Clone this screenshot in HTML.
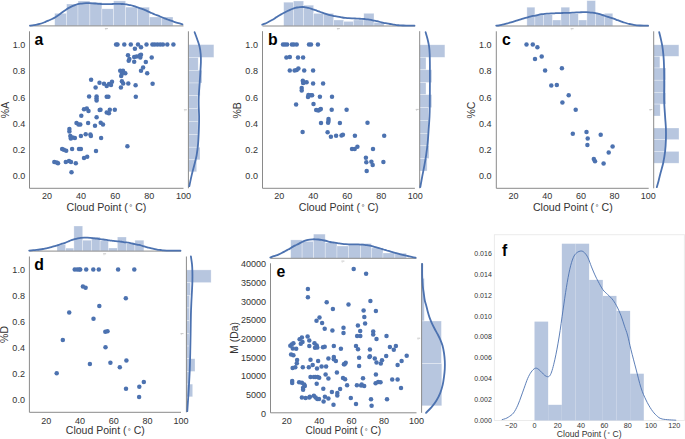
<!DOCTYPE html>
<html><head><meta charset="utf-8"><title>Figure</title>
<style>html,body{margin:0;padding:0;background:#fff;}svg{display:block;}
text{font-family:"Liberation Sans", sans-serif;}</style></head>
<body>
<svg width="685" height="439" viewBox="0 0 685 439" font-family='"Liberation Sans", sans-serif'>
<rect width="685" height="439" fill="#fff"/>
<rect x="54.7" y="13.3" width="11.9" height="12.6" fill="#b7c6df" stroke="#fff" stroke-opacity="0.5" stroke-width="0.6"/>
<rect x="66.6" y="4" width="11.4" height="21.9" fill="#b7c6df" stroke="#fff" stroke-opacity="0.5" stroke-width="0.6"/>
<rect x="78" y="1" width="11.9" height="24.9" fill="#b7c6df" stroke="#fff" stroke-opacity="0.5" stroke-width="0.6"/>
<rect x="89.9" y="2.3" width="12" height="23.6" fill="#b7c6df" stroke="#fff" stroke-opacity="0.5" stroke-width="0.6"/>
<rect x="101.9" y="8.8" width="11.7" height="17.1" fill="#b7c6df" stroke="#fff" stroke-opacity="0.5" stroke-width="0.6"/>
<rect x="113.6" y="0.9" width="12" height="25" fill="#b7c6df" stroke="#fff" stroke-opacity="0.5" stroke-width="0.6"/>
<rect x="125.6" y="7.1" width="12.1" height="18.8" fill="#b7c6df" stroke="#fff" stroke-opacity="0.5" stroke-width="0.6"/>
<rect x="137.7" y="7.2" width="11.7" height="18.7" fill="#b7c6df" stroke="#fff" stroke-opacity="0.5" stroke-width="0.6"/>
<rect x="149.4" y="17" width="12.1" height="8.9" fill="#b7c6df" stroke="#fff" stroke-opacity="0.5" stroke-width="0.6"/>
<rect x="161.5" y="17" width="11.5" height="8.9" fill="#b7c6df" stroke="#fff" stroke-opacity="0.5" stroke-width="0.6"/>
<line x1="29.5" y1="25.9" x2="183.5" y2="25.9" stroke="#8a8a8a" stroke-width="1"/>
<path d="M30,25.6 C30.63,25.52 32.67,25.27 33.8,25.1 C34.93,24.93 35.82,24.8 36.8,24.6 C37.78,24.4 38.73,24.17 39.7,23.9 C40.67,23.63 41.63,23.35 42.6,23 C43.57,22.65 44.53,22.2 45.5,21.8 C46.47,21.4 47.42,21.02 48.4,20.6 C49.38,20.18 50.42,19.75 51.4,19.3 C52.38,18.85 53.33,18.45 54.3,17.9 C55.27,17.35 56.23,16.67 57.2,16 C58.17,15.33 59.13,14.6 60.1,13.9 C61.07,13.2 62.02,12.5 63,11.8 C63.98,11.1 65.02,10.35 66,9.7 C66.98,9.05 67.93,8.45 68.9,7.9 C69.87,7.35 70.82,6.85 71.8,6.4 C72.78,5.95 73.82,5.57 74.8,5.2 C75.78,4.83 76.73,4.47 77.7,4.2 C78.67,3.93 79.63,3.75 80.6,3.6 C81.57,3.45 82.53,3.37 83.5,3.3 C84.47,3.23 85.42,3.22 86.4,3.2 C87.38,3.18 88.42,3.18 89.4,3.2 C90.38,3.22 91.33,3.25 92.3,3.3 C93.27,3.35 94.23,3.42 95.2,3.5 C96.17,3.58 97.13,3.72 98.1,3.8 C99.07,3.88 100.02,3.93 101,4 C101.98,4.07 103.02,4.17 104,4.2 C104.98,4.23 105.93,4.22 106.9,4.2 C107.87,4.18 108.82,4.13 109.8,4.1 C110.78,4.07 111.82,4.03 112.8,4 C113.78,3.97 114.73,3.92 115.7,3.9 C116.67,3.88 117.63,3.88 118.6,3.9 C119.57,3.92 120.53,3.97 121.5,4 C122.47,4.03 123.42,4 124.4,4.1 C125.38,4.2 126.42,4.43 127.4,4.6 C128.38,4.77 129.33,4.9 130.3,5.1 C131.27,5.3 132.23,5.5 133.2,5.8 C134.17,6.1 135.13,6.55 136.1,6.9 C137.07,7.25 138.02,7.58 139,7.9 C139.98,8.22 140.97,8.43 142,8.8 C143.03,9.17 144.13,9.63 145.2,10.1 C146.27,10.57 147.33,11.12 148.4,11.6 C149.47,12.08 150.53,12.52 151.6,13 C152.67,13.48 153.72,14.05 154.8,14.5 C155.88,14.95 157.02,15.28 158.1,15.7 C159.18,16.12 160.23,16.57 161.3,17 C162.37,17.43 163.43,17.88 164.5,18.3 C165.57,18.72 166.63,19.1 167.7,19.5 C168.77,19.9 169.83,20.32 170.9,20.7 C171.97,21.08 173.03,21.45 174.1,21.8 C175.17,22.15 175.9,22.38 177.3,22.8 C178.7,23.22 181.63,24.05 182.5,24.3" fill="none" stroke="#4c72b0" stroke-width="1.8" stroke-linecap="round"/>
<rect x="188.4" y="44.6" width="25.5" height="12.8" fill="#b7c6df" stroke="#fff" stroke-opacity="0.5" stroke-width="0.6"/>
<rect x="188.4" y="57.4" width="9.8" height="12.9" fill="#b7c6df" stroke="#fff" stroke-opacity="0.5" stroke-width="0.6"/>
<rect x="188.4" y="70.3" width="13.6" height="12.7" fill="#b7c6df" stroke="#fff" stroke-opacity="0.5" stroke-width="0.6"/>
<rect x="188.4" y="83" width="11.7" height="12.6" fill="#b7c6df" stroke="#fff" stroke-opacity="0.5" stroke-width="0.6"/>
<rect x="188.4" y="95.6" width="9.3" height="12.8" fill="#b7c6df" stroke="#fff" stroke-opacity="0.5" stroke-width="0.6"/>
<rect x="188.4" y="108.4" width="9.7" height="12.9" fill="#b7c6df" stroke="#fff" stroke-opacity="0.5" stroke-width="0.6"/>
<rect x="188.4" y="121.3" width="9.7" height="13.1" fill="#b7c6df" stroke="#fff" stroke-opacity="0.5" stroke-width="0.6"/>
<rect x="188.4" y="134.4" width="10.2" height="12.8" fill="#b7c6df" stroke="#fff" stroke-opacity="0.5" stroke-width="0.6"/>
<rect x="188.4" y="147.2" width="11.6" height="12.6" fill="#b7c6df" stroke="#fff" stroke-opacity="0.5" stroke-width="0.6"/>
<rect x="188.4" y="159.8" width="8.3" height="12" fill="#b7c6df" stroke="#fff" stroke-opacity="0.5" stroke-width="0.6"/>
<line x1="188.4" y1="31.3" x2="188.4" y2="188.3" stroke="#8a8a8a" stroke-width="1"/>
<path d="M194.6,32.2 C195.03,33.37 196.37,36.78 197.2,39.2 C198.03,41.62 199.02,44.2 199.6,46.7 C200.18,49.2 200.48,51.7 200.7,54.2 C200.92,56.7 200.97,58.58 200.9,61.7 C200.83,64.82 200.52,69.17 200.3,72.9 C200.08,76.63 199.85,80.35 199.6,84.1 C199.35,87.85 198.95,91.92 198.8,95.4 C198.65,98.88 198.65,101.47 198.7,105 C198.75,108.53 199.07,112.73 199.1,116.6 C199.13,120.47 199.07,123.68 198.9,128.2 C198.73,132.72 198.48,139.18 198.1,143.7 C197.72,148.22 197.23,151.75 196.6,155.3 C195.97,158.85 195.1,161.78 194.3,165 C193.5,168.22 192.63,171.07 191.8,174.6 C190.97,178.13 189.72,184.27 189.3,186.2" fill="none" stroke="#4c72b0" stroke-width="1.8" stroke-linecap="round"/>
<line x1="29.5" y1="31.3" x2="29.5" y2="188.3" stroke="#8a8a8a" stroke-width="1"/>
<line x1="29.5" y1="188.3" x2="183.5" y2="188.3" stroke="#8a8a8a" stroke-width="1"/>
<g fill="#4c72b0">
<circle cx="116.1" cy="44.6" r="2.25"/>
<circle cx="117.5" cy="44.6" r="2.25"/>
<circle cx="124.3" cy="44.6" r="2.25"/>
<circle cx="130.8" cy="44.6" r="2.25"/>
<circle cx="138" cy="44.6" r="2.25"/>
<circle cx="146.5" cy="44.6" r="2.25"/>
<circle cx="152.4" cy="44.6" r="2.25"/>
<circle cx="154.7" cy="44.6" r="2.25"/>
<circle cx="157.4" cy="44.6" r="2.25"/>
<circle cx="160.2" cy="44.6" r="2.25"/>
<circle cx="162.9" cy="44.6" r="2.25"/>
<circle cx="167.3" cy="44.6" r="2.25"/>
<circle cx="173.4" cy="44.6" r="2.25"/>
<circle cx="134.9" cy="48.7" r="2.25"/>
<circle cx="141" cy="47.3" r="2.25"/>
<circle cx="128" cy="55.2" r="2.25"/>
<circle cx="129.4" cy="58.9" r="2.25"/>
<circle cx="128.7" cy="60.7" r="2.25"/>
<circle cx="134.2" cy="56.9" r="2.25"/>
<circle cx="134.2" cy="61.7" r="2.25"/>
<circle cx="136.6" cy="56.6" r="2.25"/>
<circle cx="139.7" cy="55.5" r="2.25"/>
<circle cx="141" cy="54.8" r="2.25"/>
<circle cx="140.3" cy="57.6" r="2.25"/>
<circle cx="145.8" cy="61.9" r="2.25"/>
<circle cx="151.7" cy="57.6" r="2.25"/>
<circle cx="143.1" cy="67.4" r="2.25"/>
<circle cx="141" cy="70.8" r="2.25"/>
<circle cx="147.2" cy="73.3" r="2.25"/>
<circle cx="120.2" cy="70.8" r="2.25"/>
<circle cx="123" cy="70.8" r="2.25"/>
<circle cx="125.3" cy="73.3" r="2.25"/>
<circle cx="121.9" cy="73.7" r="2.25"/>
<circle cx="121.2" cy="76" r="2.25"/>
<circle cx="121.9" cy="81.2" r="2.25"/>
<circle cx="123.2" cy="83.5" r="2.25"/>
<circle cx="128.3" cy="83.5" r="2.25"/>
<circle cx="120.9" cy="87.4" r="2.25"/>
<circle cx="135.6" cy="85.2" r="2.25"/>
<circle cx="152.6" cy="83.8" r="2.25"/>
<circle cx="99.5" cy="82.8" r="2.25"/>
<circle cx="104" cy="83.7" r="2.25"/>
<circle cx="106.7" cy="86" r="2.25"/>
<circle cx="109" cy="84" r="2.25"/>
<circle cx="111" cy="84.9" r="2.25"/>
<circle cx="112" cy="81.8" r="2.25"/>
<circle cx="91.1" cy="79.8" r="2.25"/>
<circle cx="95.6" cy="87.4" r="2.25"/>
<circle cx="89.1" cy="96.6" r="2.25"/>
<circle cx="96.6" cy="96.6" r="2.25"/>
<circle cx="96.5" cy="98.6" r="2.25"/>
<circle cx="96.6" cy="100.6" r="2.25"/>
<circle cx="106.7" cy="96.7" r="2.25"/>
<circle cx="108.4" cy="96.7" r="2.25"/>
<circle cx="135.8" cy="96.8" r="2.25"/>
<circle cx="84" cy="109.2" r="2.25"/>
<circle cx="86.8" cy="108.5" r="2.25"/>
<circle cx="88.5" cy="110.9" r="2.25"/>
<circle cx="99.7" cy="109.9" r="2.25"/>
<circle cx="100.5" cy="109.8" r="2.25"/>
<circle cx="106.7" cy="112.5" r="2.25"/>
<circle cx="108.9" cy="113.2" r="2.25"/>
<circle cx="109.8" cy="109.8" r="2.25"/>
<circle cx="114.8" cy="109.8" r="2.25"/>
<circle cx="81.3" cy="115.8" r="2.25"/>
<circle cx="96.6" cy="117.2" r="2.25"/>
<circle cx="76.5" cy="123" r="2.25"/>
<circle cx="78.5" cy="124.4" r="2.25"/>
<circle cx="80.3" cy="124.4" r="2.25"/>
<circle cx="88.1" cy="123" r="2.25"/>
<circle cx="95" cy="125.7" r="2.25"/>
<circle cx="100.7" cy="122.8" r="2.25"/>
<circle cx="103" cy="124.5" r="2.25"/>
<circle cx="69.4" cy="129.1" r="2.25"/>
<circle cx="69.4" cy="131.6" r="2.25"/>
<circle cx="70.3" cy="136" r="2.25"/>
<circle cx="70.8" cy="138.4" r="2.25"/>
<circle cx="72.7" cy="137.4" r="2.25"/>
<circle cx="74.9" cy="138" r="2.25"/>
<circle cx="80.9" cy="136" r="2.25"/>
<circle cx="85.7" cy="134.3" r="2.25"/>
<circle cx="90.4" cy="134.6" r="2.25"/>
<circle cx="90.9" cy="136" r="2.25"/>
<circle cx="101.1" cy="138.1" r="2.25"/>
<circle cx="127.4" cy="146.3" r="2.25"/>
<circle cx="62.1" cy="149" r="2.25"/>
<circle cx="63.9" cy="149.7" r="2.25"/>
<circle cx="66.2" cy="150.8" r="2.25"/>
<circle cx="72.1" cy="149" r="2.25"/>
<circle cx="79" cy="149" r="2.25"/>
<circle cx="80.9" cy="149" r="2.25"/>
<circle cx="96" cy="151" r="2.25"/>
<circle cx="84" cy="157.9" r="2.25"/>
<circle cx="87.2" cy="156.8" r="2.25"/>
<circle cx="54.3" cy="162" r="2.25"/>
<circle cx="56.7" cy="162.6" r="2.25"/>
<circle cx="58" cy="163.3" r="2.25"/>
<circle cx="65.8" cy="162" r="2.25"/>
<circle cx="69" cy="160.9" r="2.25"/>
<circle cx="71" cy="162" r="2.25"/>
<circle cx="75.8" cy="163.3" r="2.25"/>
<circle cx="71.5" cy="172.3" r="2.25"/>
</g>
<text transform="translate(25.3,179.1) scale(0.93,1)" font-size="9.7" text-anchor="end" fill="#333333">0.0</text>
<text transform="translate(25.3,152.94) scale(0.93,1)" font-size="9.7" text-anchor="end" fill="#333333">0.2</text>
<text transform="translate(25.3,126.78) scale(0.93,1)" font-size="9.7" text-anchor="end" fill="#333333">0.4</text>
<text transform="translate(25.3,100.62) scale(0.93,1)" font-size="9.7" text-anchor="end" fill="#333333">0.6</text>
<text transform="translate(25.3,74.46) scale(0.93,1)" font-size="9.7" text-anchor="end" fill="#333333">0.8</text>
<text transform="translate(25.3,48.3) scale(0.93,1)" font-size="9.7" text-anchor="end" fill="#333333">1.0</text>
<text transform="translate(46.97,199.4) scale(0.93,1)" font-size="9.7" text-anchor="middle" fill="#333333">20</text>
<text transform="translate(81.1,199.4) scale(0.93,1)" font-size="9.7" text-anchor="middle" fill="#333333">40</text>
<text transform="translate(115.24,199.4) scale(0.93,1)" font-size="9.7" text-anchor="middle" fill="#333333">60</text>
<text transform="translate(149.37,199.4) scale(0.93,1)" font-size="9.7" text-anchor="middle" fill="#333333">80</text>
<text transform="translate(183.5,199.4) scale(0.93,1)" font-size="9.7" text-anchor="middle" fill="#333333">100</text>
<text x="34.4" y="44.5" font-size="15.8" text-anchor="start" fill="#000" font-weight="bold">a</text>
<text transform="translate(8.5,110) rotate(-90)" font-size="10.5" text-anchor="middle" fill="#333333">%A</text>
<text x="66.6" y="210.9" font-size="10.6" fill="#333333">Cloud Point (</text>
<text x="129.2" y="210" font-size="7.63" fill="#333333">&#176;</text>
<text x="135.2" y="210.9" font-size="10.6" fill="#333333">C)</text>
<rect x="283.7" y="2.2" width="9.8" height="23.8" fill="#b7c6df" stroke="#fff" stroke-opacity="0.5" stroke-width="0.6"/>
<rect x="293.5" y="1" width="10.1" height="25" fill="#b7c6df" stroke="#fff" stroke-opacity="0.5" stroke-width="0.6"/>
<rect x="303.6" y="5.2" width="10" height="20.8" fill="#b7c6df" stroke="#fff" stroke-opacity="0.5" stroke-width="0.6"/>
<rect x="313.6" y="13.4" width="10" height="12.6" fill="#b7c6df" stroke="#fff" stroke-opacity="0.5" stroke-width="0.6"/>
<rect x="323.6" y="13.4" width="10.1" height="12.6" fill="#b7c6df" stroke="#fff" stroke-opacity="0.5" stroke-width="0.6"/>
<rect x="333.7" y="20" width="10" height="6" fill="#b7c6df" stroke="#fff" stroke-opacity="0.5" stroke-width="0.6"/>
<rect x="343.7" y="21.4" width="9.8" height="4.6" fill="#b7c6df" stroke="#fff" stroke-opacity="0.5" stroke-width="0.6"/>
<rect x="353.5" y="20" width="10.3" height="6" fill="#b7c6df" stroke="#fff" stroke-opacity="0.5" stroke-width="0.6"/>
<rect x="363.8" y="13.3" width="10.2" height="12.7" fill="#b7c6df" stroke="#fff" stroke-opacity="0.5" stroke-width="0.6"/>
<rect x="374" y="22.5" width="10" height="3.5" fill="#b7c6df" stroke="#fff" stroke-opacity="0.5" stroke-width="0.6"/>
<line x1="262.5" y1="26" x2="414.9" y2="26" stroke="#8a8a8a" stroke-width="1"/>
<path d="M262.2,24.6 C262.68,24.43 264.08,24.03 265.1,23.6 C266.12,23.17 267.23,22.55 268.3,22 C269.37,21.45 270.43,20.9 271.5,20.3 C272.57,19.7 273.63,19.07 274.7,18.4 C275.77,17.73 276.83,16.97 277.9,16.3 C278.97,15.63 280.05,14.98 281.1,14.4 C282.15,13.82 283.15,13.37 284.2,12.8 C285.25,12.23 286.33,11.53 287.4,11 C288.47,10.47 289.53,10.05 290.6,9.6 C291.67,9.15 292.73,8.65 293.8,8.3 C294.87,7.95 295.97,7.7 297,7.5 C298.03,7.3 299.08,7.18 300,7.1 C300.92,7.02 301.77,7 302.5,7 C303.23,7 303.55,6.97 304.4,7.1 C305.25,7.23 306.53,7.55 307.6,7.8 C308.67,8.05 309.75,8.28 310.8,8.6 C311.85,8.92 312.85,9.33 313.9,9.7 C314.95,10.07 316.03,10.42 317.1,10.8 C318.17,11.18 319.23,11.62 320.3,12 C321.37,12.38 322.43,12.73 323.5,13.1 C324.57,13.47 325.63,13.85 326.7,14.2 C327.77,14.55 328.83,14.92 329.9,15.2 C330.97,15.48 332.05,15.7 333.1,15.9 C334.15,16.1 335.18,16.23 336.2,16.4 C337.22,16.57 338.17,16.72 339.2,16.9 C340.23,17.08 341.33,17.33 342.4,17.5 C343.47,17.67 344.53,17.78 345.6,17.9 C346.67,18.02 347.73,18.12 348.8,18.2 C349.87,18.28 350.95,18.35 352,18.4 C353.05,18.45 354.05,18.45 355.1,18.5 C356.15,18.55 357.23,18.65 358.3,18.7 C359.37,18.75 360.43,18.75 361.5,18.8 C362.57,18.85 363.63,18.92 364.7,19 C365.77,19.08 366.83,19.15 367.9,19.3 C368.97,19.45 370.05,19.68 371.1,19.9 C372.15,20.12 373.18,20.38 374.2,20.6 C375.22,20.82 376.17,20.97 377.2,21.2 C378.23,21.43 379.33,21.73 380.4,22 C381.47,22.27 382.53,22.57 383.6,22.8 C384.67,23.03 385.72,23.2 386.8,23.4 C387.88,23.6 389.02,23.8 390.1,24 C391.18,24.2 392.23,24.42 393.3,24.6 C394.37,24.78 395.43,24.98 396.5,25.1 C397.57,25.22 398.63,25.23 399.7,25.3 C400.77,25.37 401.83,25.45 402.9,25.5 C403.97,25.55 404.17,25.57 406.1,25.6 C408.03,25.63 413.1,25.68 414.5,25.7" fill="none" stroke="#4c72b0" stroke-width="1.8" stroke-linecap="round"/>
<rect x="419.7" y="44.8" width="25.2" height="12.5" fill="#b7c6df" stroke="#fff" stroke-opacity="0.5" stroke-width="0.6"/>
<rect x="419.7" y="57.3" width="6.3" height="12.5" fill="#b7c6df" stroke="#fff" stroke-opacity="0.5" stroke-width="0.6"/>
<rect x="419.7" y="69.8" width="12.1" height="12.7" fill="#b7c6df" stroke="#fff" stroke-opacity="0.5" stroke-width="0.6"/>
<rect x="419.7" y="82.5" width="6.3" height="12.2" fill="#b7c6df" stroke="#fff" stroke-opacity="0.5" stroke-width="0.6"/>
<rect x="419.7" y="94.7" width="12.1" height="12.8" fill="#b7c6df" stroke="#fff" stroke-opacity="0.5" stroke-width="0.6"/>
<rect x="419.7" y="107.5" width="8.8" height="12.8" fill="#b7c6df" stroke="#fff" stroke-opacity="0.5" stroke-width="0.6"/>
<rect x="419.7" y="120.3" width="8.8" height="13" fill="#b7c6df" stroke="#fff" stroke-opacity="0.5" stroke-width="0.6"/>
<rect x="419.7" y="133.3" width="8.8" height="12.5" fill="#b7c6df" stroke="#fff" stroke-opacity="0.5" stroke-width="0.6"/>
<rect x="419.7" y="145.8" width="9.3" height="12.7" fill="#b7c6df" stroke="#fff" stroke-opacity="0.5" stroke-width="0.6"/>
<rect x="419.7" y="158.5" width="7.4" height="12.5" fill="#b7c6df" stroke="#fff" stroke-opacity="0.5" stroke-width="0.6"/>
<line x1="419.7" y1="31.2" x2="419.7" y2="188.3" stroke="#8a8a8a" stroke-width="1"/>
<path d="M425.6,32.2 C425.93,33.37 427.02,36.78 427.6,39.2 C428.18,41.62 428.75,44.2 429.1,46.7 C429.45,49.2 429.57,51.08 429.7,54.2 C429.83,57.32 429.87,60.42 429.9,65.4 C429.93,70.38 429.92,77.5 429.9,84.1 C429.88,90.7 429.87,99.58 429.8,105 C429.73,110.42 429.7,112.42 429.5,116.6 C429.3,120.78 428.92,125.58 428.6,130.1 C428.28,134.62 428.02,139.5 427.6,143.7 C427.18,147.9 426.68,151.43 426.1,155.3 C425.52,159.17 424.75,163.35 424.1,166.9 C423.45,170.45 422.83,173.22 422.2,176.6 C421.57,179.98 420.62,185.43 420.3,187.2" fill="none" stroke="#4c72b0" stroke-width="1.8" stroke-linecap="round"/>
<line x1="262.5" y1="31.2" x2="262.5" y2="188.3" stroke="#8a8a8a" stroke-width="1"/>
<line x1="262.5" y1="188.3" x2="414.9" y2="188.3" stroke="#8a8a8a" stroke-width="1"/>
<g fill="#4c72b0">
<circle cx="283" cy="44.6" r="2.25"/>
<circle cx="285" cy="44.6" r="2.25"/>
<circle cx="287.1" cy="44.6" r="2.25"/>
<circle cx="291.9" cy="44.6" r="2.25"/>
<circle cx="293.9" cy="44.6" r="2.25"/>
<circle cx="296.7" cy="44.6" r="2.25"/>
<circle cx="309" cy="44.6" r="2.25"/>
<circle cx="311" cy="44.6" r="2.25"/>
<circle cx="317.9" cy="44.6" r="2.25"/>
<circle cx="286.4" cy="57.6" r="2.25"/>
<circle cx="289.8" cy="56.9" r="2.25"/>
<circle cx="298" cy="57.6" r="2.25"/>
<circle cx="303.1" cy="57.6" r="2.25"/>
<circle cx="289.8" cy="70.6" r="2.25"/>
<circle cx="294.6" cy="70.6" r="2.25"/>
<circle cx="296.7" cy="70.1" r="2.25"/>
<circle cx="298.4" cy="68.5" r="2.25"/>
<circle cx="304.2" cy="70.6" r="2.25"/>
<circle cx="313.1" cy="70.6" r="2.25"/>
<circle cx="302.8" cy="80.8" r="2.25"/>
<circle cx="303.1" cy="83.1" r="2.25"/>
<circle cx="306.6" cy="82.2" r="2.25"/>
<circle cx="304" cy="82.5" r="2.25"/>
<circle cx="313.1" cy="83.5" r="2.25"/>
<circle cx="323.1" cy="83.5" r="2.25"/>
<circle cx="301.7" cy="88" r="2.25"/>
<circle cx="301.7" cy="90.5" r="2.25"/>
<circle cx="308.4" cy="95" r="2.25"/>
<circle cx="308" cy="97.1" r="2.25"/>
<circle cx="310.8" cy="95.3" r="2.25"/>
<circle cx="312.1" cy="95.3" r="2.25"/>
<circle cx="319.9" cy="96.8" r="2.25"/>
<circle cx="332" cy="96.8" r="2.25"/>
<circle cx="296.1" cy="104.6" r="2.25"/>
<circle cx="313.5" cy="104.1" r="2.25"/>
<circle cx="316.2" cy="110.1" r="2.25"/>
<circle cx="318.3" cy="110.4" r="2.25"/>
<circle cx="320.8" cy="109" r="2.25"/>
<circle cx="319.7" cy="109.8" r="2.25"/>
<circle cx="331.7" cy="109.8" r="2.25"/>
<circle cx="346.6" cy="109.8" r="2.25"/>
<circle cx="328.5" cy="119" r="2.25"/>
<circle cx="328.5" cy="121" r="2.25"/>
<circle cx="328.1" cy="122.7" r="2.25"/>
<circle cx="321" cy="123.1" r="2.25"/>
<circle cx="339.9" cy="123.1" r="2.25"/>
<circle cx="367.5" cy="122.7" r="2.25"/>
<circle cx="302.6" cy="132" r="2.25"/>
<circle cx="327.6" cy="132.2" r="2.25"/>
<circle cx="330.9" cy="136.8" r="2.25"/>
<circle cx="336.1" cy="135.8" r="2.25"/>
<circle cx="341.5" cy="135.4" r="2.25"/>
<circle cx="342.9" cy="134.7" r="2.25"/>
<circle cx="354.9" cy="135.8" r="2.25"/>
<circle cx="384.2" cy="135.8" r="2.25"/>
<circle cx="352" cy="149" r="2.25"/>
<circle cx="354.7" cy="149" r="2.25"/>
<circle cx="357.4" cy="146.7" r="2.25"/>
<circle cx="373" cy="149" r="2.25"/>
<circle cx="365.9" cy="157.8" r="2.25"/>
<circle cx="366.3" cy="162.3" r="2.25"/>
<circle cx="371.4" cy="161.8" r="2.25"/>
<circle cx="372.7" cy="165" r="2.25"/>
<circle cx="383.4" cy="162.1" r="2.25"/>
<circle cx="366.7" cy="170.9" r="2.25"/>
</g>
<text transform="translate(257.9,179.1) scale(0.93,1)" font-size="9.7" text-anchor="end" fill="#333333">0.0</text>
<text transform="translate(257.9,152.94) scale(0.93,1)" font-size="9.7" text-anchor="end" fill="#333333">0.2</text>
<text transform="translate(257.9,126.78) scale(0.93,1)" font-size="9.7" text-anchor="end" fill="#333333">0.4</text>
<text transform="translate(257.9,100.62) scale(0.93,1)" font-size="9.7" text-anchor="end" fill="#333333">0.6</text>
<text transform="translate(257.9,74.46) scale(0.93,1)" font-size="9.7" text-anchor="end" fill="#333333">0.8</text>
<text transform="translate(257.9,48.3) scale(0.93,1)" font-size="9.7" text-anchor="end" fill="#333333">1.0</text>
<text transform="translate(279.3,199.4) scale(0.93,1)" font-size="9.7" text-anchor="middle" fill="#333333">20</text>
<text transform="translate(313.3,199.4) scale(0.93,1)" font-size="9.7" text-anchor="middle" fill="#333333">40</text>
<text transform="translate(347.3,199.4) scale(0.93,1)" font-size="9.7" text-anchor="middle" fill="#333333">60</text>
<text transform="translate(381.3,199.4) scale(0.93,1)" font-size="9.7" text-anchor="middle" fill="#333333">80</text>
<text transform="translate(415.3,199.4) scale(0.93,1)" font-size="9.7" text-anchor="middle" fill="#333333">100</text>
<text x="268" y="44.6" font-size="15.8" text-anchor="start" fill="#000" font-weight="bold">b</text>
<text transform="translate(240.9,110.3) rotate(-90)" font-size="10.5" text-anchor="middle" fill="#333333">%B</text>
<text x="298.8" y="210.8" font-size="10.6" fill="#333333">Cloud Point (</text>
<text x="361.4" y="209.9" font-size="7.63" fill="#333333">&#176;</text>
<text x="367.4" y="210.8" font-size="10.6" fill="#333333">C)</text>
<rect x="526.9" y="7.2" width="8" height="18.8" fill="#b7c6df" stroke="#fff" stroke-opacity="0.5" stroke-width="0.6"/>
<rect x="534.9" y="14.6" width="8.6" height="11.4" fill="#b7c6df" stroke="#fff" stroke-opacity="0.5" stroke-width="0.6"/>
<rect x="543.5" y="14.6" width="8.9" height="11.4" fill="#b7c6df" stroke="#fff" stroke-opacity="0.5" stroke-width="0.6"/>
<rect x="552.4" y="20" width="8.6" height="6" fill="#b7c6df" stroke="#fff" stroke-opacity="0.5" stroke-width="0.6"/>
<rect x="561" y="7.2" width="8.7" height="18.8" fill="#b7c6df" stroke="#fff" stroke-opacity="0.5" stroke-width="0.6"/>
<rect x="569.7" y="13.7" width="8.6" height="12.3" fill="#b7c6df" stroke="#fff" stroke-opacity="0.5" stroke-width="0.6"/>
<rect x="578.3" y="20" width="8.6" height="6" fill="#b7c6df" stroke="#fff" stroke-opacity="0.5" stroke-width="0.6"/>
<rect x="586.9" y="0.6" width="8.6" height="25.4" fill="#b7c6df" stroke="#fff" stroke-opacity="0.5" stroke-width="0.6"/>
<rect x="595.5" y="14" width="8.9" height="12" fill="#b7c6df" stroke="#fff" stroke-opacity="0.5" stroke-width="0.6"/>
<rect x="604.4" y="13.3" width="8.4" height="12.7" fill="#b7c6df" stroke="#fff" stroke-opacity="0.5" stroke-width="0.6"/>
<line x1="496.3" y1="26" x2="648.7" y2="26" stroke="#8a8a8a" stroke-width="1"/>
<path d="M496.2,25.7 C496.68,25.65 498.08,25.57 499.1,25.4 C500.12,25.23 501.23,24.95 502.3,24.7 C503.37,24.45 504.43,24.18 505.5,23.9 C506.57,23.62 507.63,23.3 508.7,23 C509.77,22.7 510.83,22.42 511.9,22.1 C512.97,21.78 514.05,21.43 515.1,21.1 C516.15,20.77 517.15,20.42 518.2,20.1 C519.25,19.78 520.33,19.52 521.4,19.2 C522.47,18.88 523.53,18.52 524.6,18.2 C525.67,17.88 526.73,17.6 527.8,17.3 C528.87,17 530.05,16.63 531,16.4 C531.95,16.17 532.8,16.03 533.5,15.9 C534.2,15.77 534.38,15.78 535.2,15.6 C536.02,15.42 537.33,15.03 538.4,14.8 C539.47,14.57 540.53,14.37 541.6,14.2 C542.67,14.03 543.73,13.9 544.8,13.8 C545.87,13.7 546.95,13.67 548,13.6 C549.05,13.53 550.05,13.45 551.1,13.4 C552.15,13.35 553.23,13.35 554.3,13.3 C555.37,13.25 556.43,13.13 557.5,13.1 C558.57,13.07 559.63,13.13 560.7,13.1 C561.77,13.07 562.83,12.93 563.9,12.9 C564.97,12.87 566.08,12.92 567.1,12.9 C568.12,12.88 568.98,12.85 570,12.8 C571.02,12.75 572.13,12.67 573.2,12.6 C574.27,12.53 575.33,12.45 576.4,12.4 C577.47,12.35 578.53,12.33 579.6,12.3 C580.67,12.27 581.75,12.22 582.8,12.2 C583.85,12.18 584.85,12.18 585.9,12.2 C586.95,12.22 588.03,12.23 589.1,12.3 C590.17,12.37 591.23,12.47 592.3,12.6 C593.37,12.73 594.43,12.88 595.5,13.1 C596.57,13.32 597.63,13.62 598.7,13.9 C599.77,14.18 600.83,14.45 601.9,14.8 C602.97,15.15 604.05,15.65 605.1,16 C606.15,16.35 607.18,16.6 608.2,16.9 C609.22,17.2 610.17,17.47 611.2,17.8 C612.23,18.13 613.33,18.5 614.4,18.9 C615.47,19.3 616.53,19.8 617.6,20.2 C618.67,20.6 619.72,20.92 620.8,21.3 C621.88,21.68 623.02,22.13 624.1,22.5 C625.18,22.87 626.23,23.22 627.3,23.5 C628.37,23.78 629.43,23.97 630.5,24.2 C631.57,24.43 632.63,24.72 633.7,24.9 C634.77,25.08 635.83,25.2 636.9,25.3 C637.97,25.4 638.23,25.43 640.1,25.5 C641.97,25.57 646.77,25.67 648.1,25.7" fill="none" stroke="#4c72b0" stroke-width="1.8" stroke-linecap="round"/>
<rect x="653.7" y="44.8" width="25.2" height="11.5" fill="#b7c6df" stroke="#fff" stroke-opacity="0.5" stroke-width="0.6"/>
<rect x="653.7" y="56.3" width="6.2" height="11.7" fill="#b7c6df" stroke="#fff" stroke-opacity="0.5" stroke-width="0.6"/>
<rect x="653.7" y="68" width="12.2" height="12.2" fill="#b7c6df" stroke="#fff" stroke-opacity="0.5" stroke-width="0.6"/>
<rect x="653.7" y="80.2" width="12" height="12.1" fill="#b7c6df" stroke="#fff" stroke-opacity="0.5" stroke-width="0.6"/>
<rect x="653.7" y="92.3" width="12.3" height="11.8" fill="#b7c6df" stroke="#fff" stroke-opacity="0.5" stroke-width="0.6"/>
<rect x="653.7" y="104.1" width="6.5" height="11.9" fill="#b7c6df" stroke="#fff" stroke-opacity="0.5" stroke-width="0.6"/>
<rect x="653.7" y="128" width="25.3" height="11.6" fill="#b7c6df" stroke="#fff" stroke-opacity="0.5" stroke-width="0.6"/>
<rect x="653.7" y="139.6" width="12.3" height="11.8" fill="#b7c6df" stroke="#fff" stroke-opacity="0.5" stroke-width="0.6"/>
<rect x="653.7" y="151.4" width="25.3" height="11.8" fill="#b7c6df" stroke="#fff" stroke-opacity="0.5" stroke-width="0.6"/>
<line x1="653.7" y1="31.3" x2="653.7" y2="188.3" stroke="#8a8a8a" stroke-width="1"/>
<path d="M659.2,32.2 C659.48,33.37 660.37,36.78 660.9,39.2 C661.43,41.62 661.97,43.88 662.4,46.7 C662.83,49.52 663.23,52.98 663.5,56.1 C663.77,59.22 663.88,60.73 664,65.4 C664.12,70.07 664.18,78.33 664.2,84.1 C664.22,89.87 663.95,94.58 664.1,100 C664.25,105.42 664.8,111.9 665.1,116.6 C665.4,121.3 665.77,124.33 665.9,128.2 C666.03,132.07 666.03,135.93 665.9,139.8 C665.77,143.67 665.55,147.53 665.1,151.4 C664.65,155.27 663.95,159.45 663.2,163 C662.45,166.55 661.35,169.8 660.6,172.7 C659.85,175.6 659.33,177.98 658.7,180.4 C658.07,182.82 657.12,186.07 656.8,187.2" fill="none" stroke="#4c72b0" stroke-width="1.8" stroke-linecap="round"/>
<line x1="496.3" y1="31.3" x2="496.3" y2="188.3" stroke="#8a8a8a" stroke-width="1"/>
<line x1="496.3" y1="188.3" x2="648.7" y2="188.3" stroke="#8a8a8a" stroke-width="1"/>
<g fill="#4c72b0">
<circle cx="526.5" cy="44.4" r="2.25"/>
<circle cx="532.8" cy="44.4" r="2.25"/>
<circle cx="537.4" cy="47.3" r="2.25"/>
<circle cx="541.7" cy="56.4" r="2.25"/>
<circle cx="535" cy="58.9" r="2.25"/>
<circle cx="545.1" cy="70.6" r="2.25"/>
<circle cx="561.9" cy="68.3" r="2.25"/>
<circle cx="551.3" cy="85.4" r="2.25"/>
<circle cx="556.8" cy="84.9" r="2.25"/>
<circle cx="568.7" cy="95.2" r="2.25"/>
<circle cx="562.4" cy="102.5" r="2.25"/>
<circle cx="575.7" cy="109.7" r="2.25"/>
<circle cx="572.8" cy="133.8" r="2.25"/>
<circle cx="586.5" cy="132.1" r="2.25"/>
<circle cx="587.7" cy="138.5" r="2.25"/>
<circle cx="587.4" cy="145" r="2.25"/>
<circle cx="600.7" cy="134.7" r="2.25"/>
<circle cx="612.6" cy="146.5" r="2.25"/>
<circle cx="608.7" cy="152.5" r="2.25"/>
<circle cx="593.8" cy="159" r="2.25"/>
<circle cx="595" cy="161.2" r="2.25"/>
<circle cx="603.6" cy="163.6" r="2.25"/>
</g>
<text transform="translate(491.6,179.1) scale(0.93,1)" font-size="9.7" text-anchor="end" fill="#333333">0.0</text>
<text transform="translate(491.6,152.94) scale(0.93,1)" font-size="9.7" text-anchor="end" fill="#333333">0.2</text>
<text transform="translate(491.6,126.78) scale(0.93,1)" font-size="9.7" text-anchor="end" fill="#333333">0.4</text>
<text transform="translate(491.6,100.62) scale(0.93,1)" font-size="9.7" text-anchor="end" fill="#333333">0.6</text>
<text transform="translate(491.6,74.46) scale(0.93,1)" font-size="9.7" text-anchor="end" fill="#333333">0.8</text>
<text transform="translate(491.6,48.3) scale(0.93,1)" font-size="9.7" text-anchor="end" fill="#333333">1.0</text>
<text transform="translate(513.46,199.4) scale(0.93,1)" font-size="9.7" text-anchor="middle" fill="#333333">20</text>
<text transform="translate(547.18,199.4) scale(0.93,1)" font-size="9.7" text-anchor="middle" fill="#333333">40</text>
<text transform="translate(580.9,199.4) scale(0.93,1)" font-size="9.7" text-anchor="middle" fill="#333333">60</text>
<text transform="translate(614.62,199.4) scale(0.93,1)" font-size="9.7" text-anchor="middle" fill="#333333">80</text>
<text transform="translate(648.34,199.4) scale(0.93,1)" font-size="9.7" text-anchor="middle" fill="#333333">100</text>
<text x="502" y="44.7" font-size="15.8" text-anchor="start" fill="#000" font-weight="bold">c</text>
<text transform="translate(475.3,110.1) rotate(-90)" font-size="10.5" text-anchor="middle" fill="#333333">%C</text>
<text x="532.9" y="210.8" font-size="10.6" fill="#333333">Cloud Point (</text>
<text x="595.5" y="209.9" font-size="7.63" fill="#333333">&#176;</text>
<text x="601.5" y="210.8" font-size="10.6" fill="#333333">C)</text>
<rect x="57" y="244.3" width="8.6" height="6.8" fill="#b7c6df" stroke="#fff" stroke-opacity="0.5" stroke-width="0.6"/>
<rect x="65.6" y="248.1" width="8.3" height="3" fill="#b7c6df" stroke="#fff" stroke-opacity="0.5" stroke-width="0.6"/>
<rect x="73.9" y="226" width="8.8" height="25.1" fill="#b7c6df" stroke="#fff" stroke-opacity="0.5" stroke-width="0.6"/>
<rect x="82.7" y="240.2" width="8.8" height="10.9" fill="#b7c6df" stroke="#fff" stroke-opacity="0.5" stroke-width="0.6"/>
<rect x="91.5" y="237" width="8.6" height="14.1" fill="#b7c6df" stroke="#fff" stroke-opacity="0.5" stroke-width="0.6"/>
<rect x="100.1" y="240.8" width="8.3" height="10.3" fill="#b7c6df" stroke="#fff" stroke-opacity="0.5" stroke-width="0.6"/>
<rect x="108.4" y="248" width="9" height="3.1" fill="#b7c6df" stroke="#fff" stroke-opacity="0.5" stroke-width="0.6"/>
<rect x="117.4" y="237" width="8.9" height="14.1" fill="#b7c6df" stroke="#fff" stroke-opacity="0.5" stroke-width="0.6"/>
<rect x="126.3" y="243.5" width="8.6" height="7.6" fill="#b7c6df" stroke="#fff" stroke-opacity="0.5" stroke-width="0.6"/>
<rect x="134.9" y="240.2" width="9" height="10.9" fill="#b7c6df" stroke="#fff" stroke-opacity="0.5" stroke-width="0.6"/>
<line x1="29.4" y1="251.1" x2="181" y2="251.1" stroke="#8a8a8a" stroke-width="1"/>
<path d="M29.2,250.6 C29.9,250.53 32.17,250.32 33.4,250.2 C34.63,250.08 35.53,250.02 36.6,249.9 C37.67,249.78 38.73,249.65 39.8,249.5 C40.87,249.35 41.95,249.2 43,249 C44.05,248.8 45.05,248.53 46.1,248.3 C47.15,248.07 48.23,247.87 49.3,247.6 C50.37,247.33 51.43,247 52.5,246.7 C53.57,246.4 54.63,246.12 55.7,245.8 C56.77,245.48 57.83,245.15 58.9,244.8 C59.97,244.45 61.07,244.03 62.1,243.7 C63.13,243.37 64.08,243.17 65.1,242.8 C66.12,242.43 67.15,241.93 68.2,241.5 C69.25,241.07 70.33,240.6 71.4,240.2 C72.47,239.8 73.53,239.42 74.6,239.1 C75.67,238.78 76.75,238.52 77.8,238.3 C78.85,238.08 79.85,237.92 80.9,237.8 C81.95,237.68 83.03,237.63 84.1,237.6 C85.17,237.57 86.23,237.55 87.3,237.6 C88.37,237.65 89.43,237.78 90.5,237.9 C91.57,238.02 92.63,238.17 93.7,238.3 C94.77,238.43 95.83,238.55 96.9,238.7 C97.97,238.85 99.07,239.07 100.1,239.2 C101.13,239.33 102.08,239.38 103.1,239.5 C104.12,239.62 105.15,239.75 106.2,239.9 C107.25,240.05 108.33,240.25 109.4,240.4 C110.47,240.55 111.53,240.67 112.6,240.8 C113.67,240.93 114.73,241.1 115.8,241.2 C116.87,241.3 117.95,241.3 119,241.4 C120.05,241.5 121.05,241.65 122.1,241.8 C123.15,241.95 124.23,242.15 125.3,242.3 C126.37,242.45 127.43,242.52 128.5,242.7 C129.57,242.88 130.63,243.17 131.7,243.4 C132.77,243.63 133.83,243.87 134.9,244.1 C135.97,244.33 137.05,244.57 138.1,244.8 C139.15,245.03 140.18,245.23 141.2,245.5 C142.22,245.77 143.17,246.1 144.2,246.4 C145.23,246.7 146.33,247 147.4,247.3 C148.47,247.6 149.53,247.93 150.6,248.2 C151.67,248.47 152.72,248.67 153.8,248.9 C154.88,249.13 156.02,249.42 157.1,249.6 C158.18,249.78 159.23,249.87 160.3,250 C161.37,250.13 162.43,250.3 163.5,250.4 C164.57,250.5 165.63,250.55 166.7,250.6 C167.77,250.65 167.6,250.68 169.9,250.7 C172.2,250.72 178.73,250.7 180.5,250.7" fill="none" stroke="#4c72b0" stroke-width="1.8" stroke-linecap="round"/>
<rect x="186.4" y="269.9" width="24.7" height="12.69" fill="#b7c6df" stroke="#fff" stroke-opacity="0.5" stroke-width="0.6"/>
<rect x="186.4" y="282.59" width="4.1" height="12.69" fill="#b7c6df" stroke="#fff" stroke-opacity="0.5" stroke-width="0.6"/>
<rect x="186.4" y="295.28" width="3.2" height="12.69" fill="#b7c6df" stroke="#fff" stroke-opacity="0.5" stroke-width="0.6"/>
<rect x="186.4" y="307.97" width="3.2" height="12.69" fill="#b7c6df" stroke="#fff" stroke-opacity="0.5" stroke-width="0.6"/>
<rect x="186.4" y="320.66" width="3.2" height="12.69" fill="#b7c6df" stroke="#fff" stroke-opacity="0.5" stroke-width="0.6"/>
<rect x="186.4" y="333.35" width="2.8" height="12.69" fill="#b7c6df" stroke="#fff" stroke-opacity="0.5" stroke-width="0.6"/>
<rect x="186.4" y="346.04" width="2.8" height="12.69" fill="#b7c6df" stroke="#fff" stroke-opacity="0.5" stroke-width="0.6"/>
<rect x="186.4" y="358.73" width="8.6" height="12.69" fill="#b7c6df" stroke="#fff" stroke-opacity="0.5" stroke-width="0.6"/>
<rect x="186.4" y="371.42" width="2.8" height="12.69" fill="#b7c6df" stroke="#fff" stroke-opacity="0.5" stroke-width="0.6"/>
<rect x="186.4" y="384.11" width="6.3" height="12.69" fill="#b7c6df" stroke="#fff" stroke-opacity="0.5" stroke-width="0.6"/>
<line x1="186.4" y1="256.5" x2="186.4" y2="412.3" stroke="#8a8a8a" stroke-width="1"/>
<path d="M190.9,256.4 C191.08,257.7 191.75,261.65 192,264.2 C192.25,266.75 192.33,268.88 192.4,271.7 C192.47,274.52 192.47,277.98 192.4,281.1 C192.33,284.22 192.17,286.97 192,290.4 C191.83,293.83 191.58,297.63 191.4,301.7 C191.22,305.77 191.03,309.5 190.9,314.8 C190.77,320.1 190.7,327.75 190.6,333.5 C190.5,339.25 190.43,343.43 190.3,349.3 C190.17,355.17 190.05,362.25 189.8,368.7 C189.55,375.15 189.22,380.92 188.8,388 C188.38,395.08 187.55,407.33 187.3,411.2" fill="none" stroke="#4c72b0" stroke-width="1.8" stroke-linecap="round"/>
<line x1="29.4" y1="256.5" x2="29.4" y2="412.3" stroke="#8a8a8a" stroke-width="1"/>
<line x1="29.4" y1="412.3" x2="181" y2="412.3" stroke="#8a8a8a" stroke-width="1"/>
<g fill="#4c72b0">
<circle cx="74.7" cy="269.6" r="2.25"/>
<circle cx="77.1" cy="269.6" r="2.25"/>
<circle cx="79.2" cy="269.6" r="2.25"/>
<circle cx="80.2" cy="269.6" r="2.25"/>
<circle cx="86.2" cy="269.6" r="2.25"/>
<circle cx="93.3" cy="269.6" r="2.25"/>
<circle cx="98.8" cy="269.6" r="2.25"/>
<circle cx="118.1" cy="269.6" r="2.25"/>
<circle cx="134.3" cy="269.6" r="2.25"/>
<circle cx="82.9" cy="286.6" r="2.25"/>
<circle cx="85.6" cy="287.8" r="2.25"/>
<circle cx="125.8" cy="298.2" r="2.25"/>
<circle cx="99.3" cy="306.1" r="2.25"/>
<circle cx="69.2" cy="312.5" r="2.25"/>
<circle cx="93.5" cy="318.8" r="2.25"/>
<circle cx="105.3" cy="331.7" r="2.25"/>
<circle cx="107.5" cy="331.2" r="2.25"/>
<circle cx="62.8" cy="339.9" r="2.25"/>
<circle cx="105.5" cy="347.3" r="2.25"/>
<circle cx="89.9" cy="364.1" r="2.25"/>
<circle cx="110.4" cy="362.7" r="2.25"/>
<circle cx="119.8" cy="367.2" r="2.25"/>
<circle cx="126.4" cy="360.6" r="2.25"/>
<circle cx="56.7" cy="373.3" r="2.25"/>
<circle cx="143.8" cy="382" r="2.25"/>
<circle cx="139.3" cy="386.7" r="2.25"/>
<circle cx="126" cy="388.7" r="2.25"/>
<circle cx="139.1" cy="396.9" r="2.25"/>
</g>
<text transform="translate(24.9,403.2) scale(0.93,1)" font-size="9.7" text-anchor="end" fill="#333333">0.0</text>
<text transform="translate(24.9,377.2) scale(0.93,1)" font-size="9.7" text-anchor="end" fill="#333333">0.2</text>
<text transform="translate(24.9,351.2) scale(0.93,1)" font-size="9.7" text-anchor="end" fill="#333333">0.4</text>
<text transform="translate(24.9,325.2) scale(0.93,1)" font-size="9.7" text-anchor="end" fill="#333333">0.6</text>
<text transform="translate(24.9,299.2) scale(0.93,1)" font-size="9.7" text-anchor="end" fill="#333333">0.8</text>
<text transform="translate(24.9,273.2) scale(0.93,1)" font-size="9.7" text-anchor="end" fill="#333333">1.0</text>
<text transform="translate(46.3,423.6) scale(0.93,1)" font-size="9.7" text-anchor="middle" fill="#333333">20</text>
<text transform="translate(80,423.6) scale(0.93,1)" font-size="9.7" text-anchor="middle" fill="#333333">40</text>
<text transform="translate(113.7,423.6) scale(0.93,1)" font-size="9.7" text-anchor="middle" fill="#333333">60</text>
<text transform="translate(147.4,423.6) scale(0.93,1)" font-size="9.7" text-anchor="middle" fill="#333333">80</text>
<text transform="translate(181.1,423.6) scale(0.93,1)" font-size="9.7" text-anchor="middle" fill="#333333">100</text>
<text x="34.3" y="270.4" font-size="15.8" text-anchor="start" fill="#000" font-weight="bold">d</text>
<text transform="translate(8.3,334.5) rotate(-90)" font-size="10.5" text-anchor="middle" fill="#333333">%D</text>
<text x="65.8" y="434.4" font-size="10.5" fill="#333333">Cloud Point (</text>
<text x="127.81" y="433.51" font-size="7.56" fill="#333333">&#176;</text>
<text x="133.75" y="434.4" font-size="10.5" fill="#333333">C)</text>
<rect x="290.7" y="239.9" width="11.4" height="18.4" fill="#b7c6df" stroke="#fff" stroke-opacity="0.5" stroke-width="0.6"/>
<rect x="302.1" y="241.4" width="11.4" height="16.9" fill="#b7c6df" stroke="#fff" stroke-opacity="0.5" stroke-width="0.6"/>
<rect x="313.5" y="234.1" width="11.7" height="24.2" fill="#b7c6df" stroke="#fff" stroke-opacity="0.5" stroke-width="0.6"/>
<rect x="325.2" y="242.8" width="11.8" height="15.5" fill="#b7c6df" stroke="#fff" stroke-opacity="0.5" stroke-width="0.6"/>
<rect x="337" y="246" width="11.4" height="12.3" fill="#b7c6df" stroke="#fff" stroke-opacity="0.5" stroke-width="0.6"/>
<rect x="348.4" y="244.8" width="12.2" height="13.5" fill="#b7c6df" stroke="#fff" stroke-opacity="0.5" stroke-width="0.6"/>
<rect x="360.6" y="243.5" width="10.8" height="14.8" fill="#b7c6df" stroke="#fff" stroke-opacity="0.5" stroke-width="0.6"/>
<rect x="371.4" y="247.9" width="11.6" height="10.4" fill="#b7c6df" stroke="#fff" stroke-opacity="0.5" stroke-width="0.6"/>
<rect x="383" y="253" width="11.9" height="5.3" fill="#b7c6df" stroke="#fff" stroke-opacity="0.5" stroke-width="0.6"/>
<rect x="394.9" y="253.2" width="11.5" height="5.1" fill="#b7c6df" stroke="#fff" stroke-opacity="0.5" stroke-width="0.6"/>
<line x1="270.5" y1="258.3" x2="416.5" y2="258.3" stroke="#8a8a8a" stroke-width="1"/>
<path d="M270.3,257.5 C270.83,257.28 272.52,256.55 273.5,256.2 C274.48,255.85 275.3,255.72 276.2,255.4 C277.1,255.08 277.98,254.7 278.9,254.3 C279.82,253.9 280.78,253.45 281.7,253 C282.62,252.55 283.5,252.08 284.4,251.6 C285.3,251.12 286.18,250.6 287.1,250.1 C288.02,249.6 288.98,249.13 289.9,248.6 C290.82,248.07 291.68,247.43 292.6,246.9 C293.52,246.37 294.48,245.87 295.4,245.4 C296.32,244.93 297.18,244.57 298.1,244.1 C299.02,243.63 299.95,243.08 300.9,242.6 C301.85,242.12 302.82,241.6 303.8,241.2 C304.78,240.8 305.82,240.47 306.8,240.2 C307.78,239.93 308.73,239.75 309.7,239.6 C310.67,239.45 311.63,239.35 312.6,239.3 C313.57,239.25 314.53,239.27 315.5,239.3 C316.47,239.33 317.42,239.4 318.4,239.5 C319.38,239.6 320.42,239.73 321.4,239.9 C322.38,240.07 323.33,240.28 324.3,240.5 C325.27,240.72 326.23,240.95 327.2,241.2 C328.17,241.45 329.13,241.78 330.1,242 C331.07,242.22 332.02,242.35 333,242.5 C333.98,242.65 334.97,242.75 336,242.9 C337.03,243.05 338.13,243.25 339.2,243.4 C340.27,243.55 341.33,243.68 342.4,243.8 C343.47,243.92 344.53,244.02 345.6,244.1 C346.67,244.18 347.75,244.25 348.8,244.3 C349.85,244.35 350.85,244.38 351.9,244.4 C352.95,244.42 354.03,244.4 355.1,244.4 C356.17,244.4 357.23,244.37 358.3,244.4 C359.37,244.43 360.43,244.53 361.5,244.6 C362.57,244.67 363.63,244.68 364.7,244.8 C365.77,244.92 366.83,245.12 367.9,245.3 C368.97,245.48 370.05,245.65 371.1,245.9 C372.15,246.15 373.18,246.52 374.2,246.8 C375.22,247.08 376.17,247.32 377.2,247.6 C378.23,247.88 379.33,248.18 380.4,248.5 C381.47,248.82 382.53,249.17 383.6,249.5 C384.67,249.83 385.72,250.18 386.8,250.5 C387.88,250.82 389.02,251.08 390.1,251.4 C391.18,251.72 392.23,252.1 393.3,252.4 C394.37,252.7 395.43,252.92 396.5,253.2 C397.57,253.48 398.63,253.82 399.7,254.1 C400.77,254.38 401.83,254.63 402.9,254.9 C403.97,255.17 405.03,255.45 406.1,255.7 C407.17,255.95 408.23,256.17 409.3,256.4 C410.37,256.63 411.45,256.9 412.5,257.1 C413.55,257.3 415.08,257.52 415.6,257.6" fill="none" stroke="#4c72b0" stroke-width="1.8" stroke-linecap="round"/>
<rect x="421.6" y="278.4" width="2.7" height="42.6" fill="#b7c6df" stroke="#fff" stroke-opacity="0.5" stroke-width="0.6"/>
<rect x="421.6" y="321" width="19.8" height="42.5" fill="#b7c6df" stroke="#fff" stroke-opacity="0.5" stroke-width="0.6"/>
<rect x="421.6" y="363.5" width="20.2" height="42.3" fill="#b7c6df" stroke="#fff" stroke-opacity="0.5" stroke-width="0.6"/>
<line x1="421.6" y1="263.3" x2="421.6" y2="412.8" stroke="#8a8a8a" stroke-width="1"/>
<path d="M422.2,264 C422.2,265.9 422.12,271.8 422.2,275.4 C422.28,279 422.45,282.7 422.7,285.6 C422.95,288.5 423.35,290.32 423.7,292.8 C424.05,295.28 424.38,298.4 424.8,300.5 C425.22,302.6 425.72,303.58 426.2,305.4 C426.68,307.22 427.17,309.45 427.7,311.4 C428.23,313.35 428.73,315.2 429.4,317.1 C430.07,319 430.85,320.9 431.7,322.8 C432.55,324.7 433.52,326.6 434.5,328.5 C435.48,330.4 436.62,332.3 437.6,334.2 C438.58,336.1 439.58,338.02 440.4,339.9 C441.22,341.78 441.9,343.32 442.5,345.5 C443.1,347.68 443.62,350.42 444,353 C444.38,355.58 444.67,358.35 444.8,361 C444.93,363.65 444.93,366.25 444.8,368.9 C444.67,371.55 444.35,374.23 444,376.9 C443.65,379.57 443.32,382.25 442.7,384.9 C442.08,387.55 441.37,390.15 440.3,392.8 C439.23,395.45 437.75,398.4 436.3,400.8 C434.85,403.2 433.32,405.2 431.6,407.2 C429.88,409.2 426.93,411.87 426,412.8" fill="none" stroke="#4c72b0" stroke-width="1.8" stroke-linecap="round"/>
<line x1="270.5" y1="263.3" x2="270.5" y2="412.8" stroke="#8a8a8a" stroke-width="1"/>
<line x1="270.5" y1="412.8" x2="416.5" y2="412.8" stroke="#8a8a8a" stroke-width="1"/>
<g fill="#4c72b0">
<circle cx="307.9" cy="289" r="2.25"/>
<circle cx="307.9" cy="297.2" r="2.25"/>
<circle cx="326.7" cy="302.2" r="2.25"/>
<circle cx="332.9" cy="309" r="2.25"/>
<circle cx="319.5" cy="317.6" r="2.25"/>
<circle cx="316.5" cy="320.7" r="2.25"/>
<circle cx="322.1" cy="322.9" r="2.25"/>
<circle cx="324.7" cy="328.7" r="2.25"/>
<circle cx="332.4" cy="330.4" r="2.25"/>
<circle cx="343.5" cy="327.8" r="2.25"/>
<circle cx="343.5" cy="333" r="2.25"/>
<circle cx="353.7" cy="269.1" r="2.25"/>
<circle cx="366.1" cy="273.7" r="2.25"/>
<circle cx="370.4" cy="301" r="2.25"/>
<circle cx="348.5" cy="304.4" r="2.25"/>
<circle cx="363.6" cy="310.6" r="2.25"/>
<circle cx="375.9" cy="310.9" r="2.25"/>
<circle cx="364.3" cy="316.9" r="2.25"/>
<circle cx="365.1" cy="323.6" r="2.25"/>
<circle cx="357.9" cy="325.4" r="2.25"/>
<circle cx="360.2" cy="330.9" r="2.25"/>
<circle cx="373.2" cy="331.4" r="2.25"/>
<circle cx="373.2" cy="334.6" r="2.25"/>
<circle cx="357.1" cy="336.1" r="2.25"/>
<circle cx="360.3" cy="336.1" r="2.25"/>
<circle cx="376.5" cy="339" r="2.25"/>
<circle cx="386.5" cy="336.1" r="2.25"/>
<circle cx="307.6" cy="336.4" r="2.25"/>
<circle cx="301.9" cy="337.5" r="2.25"/>
<circle cx="299.6" cy="339.2" r="2.25"/>
<circle cx="309.3" cy="340.4" r="2.25"/>
<circle cx="302.5" cy="342.1" r="2.25"/>
<circle cx="300.8" cy="343.8" r="2.25"/>
<circle cx="293.4" cy="343.2" r="2.25"/>
<circle cx="291.7" cy="344.4" r="2.25"/>
<circle cx="290.3" cy="345.7" r="2.25"/>
<circle cx="292.8" cy="348.4" r="2.25"/>
<circle cx="296.2" cy="348.7" r="2.25"/>
<circle cx="309.3" cy="346.1" r="2.25"/>
<circle cx="314.5" cy="343.2" r="2.25"/>
<circle cx="316.7" cy="345.5" r="2.25"/>
<circle cx="315" cy="347.8" r="2.25"/>
<circle cx="317.3" cy="347.6" r="2.25"/>
<circle cx="323" cy="347.2" r="2.25"/>
<circle cx="324.7" cy="346.7" r="2.25"/>
<circle cx="333.8" cy="346.1" r="2.25"/>
<circle cx="340.9" cy="348.7" r="2.25"/>
<circle cx="291.1" cy="354.6" r="2.25"/>
<circle cx="293.4" cy="355.2" r="2.25"/>
<circle cx="297.1" cy="360.1" r="2.25"/>
<circle cx="296.8" cy="363.2" r="2.25"/>
<circle cx="310.5" cy="359.8" r="2.25"/>
<circle cx="318.1" cy="360.9" r="2.25"/>
<circle cx="328.4" cy="358.4" r="2.25"/>
<circle cx="333.8" cy="356.9" r="2.25"/>
<circle cx="333.8" cy="359.2" r="2.25"/>
<circle cx="335.9" cy="360.9" r="2.25"/>
<circle cx="343.9" cy="364.3" r="2.25"/>
<circle cx="292.6" cy="368.1" r="2.25"/>
<circle cx="295.3" cy="367.2" r="2.25"/>
<circle cx="302.8" cy="367.2" r="2.25"/>
<circle cx="308.8" cy="367.2" r="2.25"/>
<circle cx="312.7" cy="364.9" r="2.25"/>
<circle cx="317" cy="368.5" r="2.25"/>
<circle cx="321.6" cy="366.6" r="2.25"/>
<circle cx="326.1" cy="366.6" r="2.25"/>
<circle cx="336.9" cy="372.6" r="2.25"/>
<circle cx="325.6" cy="374.5" r="2.25"/>
<circle cx="356" cy="346.1" r="2.25"/>
<circle cx="358" cy="349.2" r="2.25"/>
<circle cx="369.9" cy="349.5" r="2.25"/>
<circle cx="389.9" cy="346.9" r="2.25"/>
<circle cx="395.9" cy="346.1" r="2.25"/>
<circle cx="393.8" cy="349.8" r="2.25"/>
<circle cx="359.1" cy="357.8" r="2.25"/>
<circle cx="369.9" cy="356.3" r="2.25"/>
<circle cx="369.4" cy="357.1" r="2.25"/>
<circle cx="374.8" cy="358.6" r="2.25"/>
<circle cx="376.5" cy="362.4" r="2.25"/>
<circle cx="382" cy="360.3" r="2.25"/>
<circle cx="380.8" cy="363.5" r="2.25"/>
<circle cx="386.2" cy="356" r="2.25"/>
<circle cx="406.7" cy="355.8" r="2.25"/>
<circle cx="401.6" cy="360.9" r="2.25"/>
<circle cx="397.6" cy="365.1" r="2.25"/>
<circle cx="345.7" cy="362.8" r="2.25"/>
<circle cx="344.6" cy="364.3" r="2.25"/>
<circle cx="359.1" cy="366" r="2.25"/>
<circle cx="375.9" cy="374.5" r="2.25"/>
<circle cx="328.4" cy="378.5" r="2.25"/>
<circle cx="343" cy="378.1" r="2.25"/>
<circle cx="310.5" cy="377" r="2.25"/>
<circle cx="313.9" cy="377" r="2.25"/>
<circle cx="315.6" cy="377" r="2.25"/>
<circle cx="317.6" cy="377" r="2.25"/>
<circle cx="319.2" cy="377.8" r="2.25"/>
<circle cx="292.2" cy="381" r="2.25"/>
<circle cx="292.2" cy="383" r="2.25"/>
<circle cx="299.1" cy="382.3" r="2.25"/>
<circle cx="301.9" cy="382.7" r="2.25"/>
<circle cx="304.2" cy="384.4" r="2.25"/>
<circle cx="304.8" cy="386.1" r="2.25"/>
<circle cx="303.1" cy="387.8" r="2.25"/>
<circle cx="303.1" cy="389.8" r="2.25"/>
<circle cx="316.7" cy="383.8" r="2.25"/>
<circle cx="323.3" cy="388.7" r="2.25"/>
<circle cx="331.9" cy="392" r="2.25"/>
<circle cx="337.3" cy="392.9" r="2.25"/>
<circle cx="337.3" cy="395.5" r="2.25"/>
<circle cx="340.1" cy="388.9" r="2.25"/>
<circle cx="301.9" cy="397.5" r="2.25"/>
<circle cx="305.6" cy="398.1" r="2.25"/>
<circle cx="309.3" cy="397.5" r="2.25"/>
<circle cx="309.9" cy="396.7" r="2.25"/>
<circle cx="313.9" cy="395.8" r="2.25"/>
<circle cx="315.6" cy="397.5" r="2.25"/>
<circle cx="317.3" cy="399" r="2.25"/>
<circle cx="319" cy="399" r="2.25"/>
<circle cx="324.9" cy="396.7" r="2.25"/>
<circle cx="328.4" cy="398.6" r="2.25"/>
<circle cx="323.6" cy="401.5" r="2.25"/>
<circle cx="333.5" cy="404.7" r="2.25"/>
<circle cx="345.1" cy="379.2" r="2.25"/>
<circle cx="363" cy="378.3" r="2.25"/>
<circle cx="392.2" cy="379.5" r="2.25"/>
<circle cx="397.6" cy="379.5" r="2.25"/>
<circle cx="347.1" cy="385.3" r="2.25"/>
<circle cx="356.9" cy="385.2" r="2.25"/>
<circle cx="361.1" cy="385.5" r="2.25"/>
<circle cx="361.7" cy="384.6" r="2.25"/>
<circle cx="364.2" cy="386.1" r="2.25"/>
<circle cx="375.6" cy="383.2" r="2.25"/>
<circle cx="378.2" cy="381.9" r="2.25"/>
<circle cx="380.5" cy="382.3" r="2.25"/>
<circle cx="401" cy="388" r="2.25"/>
<circle cx="350.8" cy="398.1" r="2.25"/>
<circle cx="371" cy="399.2" r="2.25"/>
<circle cx="387" cy="399.2" r="2.25"/>
<circle cx="356" cy="404.1" r="2.25"/>
<circle cx="371.6" cy="405.8" r="2.25"/>
</g>
<text transform="translate(266,416.7) scale(0.93,1)" font-size="9.7" text-anchor="end" fill="#333333">0</text>
<text transform="translate(266,398) scale(0.93,1)" font-size="9.7" text-anchor="end" fill="#333333">5000</text>
<text transform="translate(266,379.3) scale(0.93,1)" font-size="9.7" text-anchor="end" fill="#333333">10000</text>
<text transform="translate(266,360.6) scale(0.93,1)" font-size="9.7" text-anchor="end" fill="#333333">15000</text>
<text transform="translate(266,341.9) scale(0.93,1)" font-size="9.7" text-anchor="end" fill="#333333">20000</text>
<text transform="translate(266,323.2) scale(0.93,1)" font-size="9.7" text-anchor="end" fill="#333333">25000</text>
<text transform="translate(266,304.5) scale(0.93,1)" font-size="9.7" text-anchor="end" fill="#333333">30000</text>
<text transform="translate(266,285.8) scale(0.93,1)" font-size="9.7" text-anchor="end" fill="#333333">35000</text>
<text transform="translate(266,267.1) scale(0.93,1)" font-size="9.7" text-anchor="end" fill="#333333">40000</text>
<text transform="translate(286.73,423.6) scale(0.93,1)" font-size="9.7" text-anchor="middle" fill="#333333">20</text>
<text transform="translate(319.18,423.6) scale(0.93,1)" font-size="9.7" text-anchor="middle" fill="#333333">40</text>
<text transform="translate(351.62,423.6) scale(0.93,1)" font-size="9.7" text-anchor="middle" fill="#333333">60</text>
<text transform="translate(384.07,423.6) scale(0.93,1)" font-size="9.7" text-anchor="middle" fill="#333333">80</text>
<text transform="translate(416.52,423.6) scale(0.93,1)" font-size="9.7" text-anchor="middle" fill="#333333">100</text>
<text x="276.4" y="277.2" font-size="15.8" text-anchor="start" fill="#000" font-weight="bold">e</text>
<text transform="translate(237.6,337.9) rotate(-90)" font-size="10.35" text-anchor="middle" fill="#333333">M (Da)</text>
<text x="305.4" y="434.4" font-size="10.05" fill="#333333">Cloud Point (</text>
<text x="364.75" y="433.55" font-size="7.24" fill="#333333">&#176;</text>
<text x="370.44" y="434.4" font-size="10.05" fill="#333333">C)</text>
<rect x="104.9" y="28.1" width="3" height="1" fill="#c8c8c8"/><rect x="105.2" y="29.1" width="1.2" height="1" fill="#e0e0e0"/>
<rect x="183.9" y="109.3" width="3" height="1" fill="#c8c8c8"/><rect x="184.2" y="110.3" width="1.2" height="1" fill="#e0e0e0"/>
<rect x="336.9" y="28.1" width="3" height="1" fill="#c8c8c8"/><rect x="337.2" y="29.1" width="1.2" height="1" fill="#e0e0e0"/>
<rect x="415.7" y="108.9" width="3" height="1" fill="#c8c8c8"/><rect x="416" y="109.9" width="1.2" height="1" fill="#e0e0e0"/>
<rect x="570.6" y="28.2" width="3" height="1" fill="#c8c8c8"/><rect x="570.9" y="29.2" width="1.2" height="1" fill="#e0e0e0"/>
<rect x="649.3" y="109.1" width="3" height="1" fill="#c8c8c8"/><rect x="649.6" y="110.1" width="1.2" height="1" fill="#e0e0e0"/>
<rect x="103.1" y="253.3" width="3" height="1" fill="#c8c8c8"/><rect x="103.4" y="254.3" width="1.2" height="1" fill="#e0e0e0"/>
<rect x="180.5" y="333.1" width="3" height="1" fill="#c8c8c8"/><rect x="180.8" y="334.1" width="1.2" height="1" fill="#e0e0e0"/>
<rect x="341.4" y="260.6" width="3" height="1" fill="#c8c8c8"/><rect x="341.7" y="261.6" width="1.2" height="1" fill="#e0e0e0"/>
<rect x="417.2" y="337.7" width="3" height="1" fill="#c8c8c8"/><rect x="417.5" y="338.7" width="1.2" height="1" fill="#e0e0e0"/>
<rect x="494.4" y="234.7" width="190" height="185.8" fill="#fff" stroke="#ebebeb" stroke-width="1"/>
<rect x="534.5" y="321.6" width="13.66" height="98.9" fill="#b7c6df" stroke="#fff" stroke-opacity="0" stroke-width="0.6"/>
<rect x="548.16" y="404.8" width="13.66" height="15.7" fill="#b7c6df" stroke="#fff" stroke-opacity="0" stroke-width="0.6"/>
<rect x="561.83" y="243.7" width="13.66" height="176.8" fill="#b7c6df" stroke="#fff" stroke-opacity="0" stroke-width="0.6"/>
<rect x="575.49" y="243.7" width="13.66" height="176.8" fill="#b7c6df" stroke="#fff" stroke-opacity="0" stroke-width="0.6"/>
<rect x="589.15" y="279.9" width="13.66" height="140.6" fill="#b7c6df" stroke="#fff" stroke-opacity="0" stroke-width="0.6"/>
<rect x="602.81" y="295.9" width="13.66" height="124.6" fill="#b7c6df" stroke="#fff" stroke-opacity="0" stroke-width="0.6"/>
<rect x="616.47" y="310.9" width="13.66" height="109.6" fill="#b7c6df" stroke="#fff" stroke-opacity="0" stroke-width="0.6"/>
<rect x="630.14" y="373.7" width="13.66" height="46.8" fill="#b7c6df" stroke="#fff" stroke-opacity="0" stroke-width="0.6"/>
<path d="M502.2,419.6 C502.75,419.43 504.43,419.03 505.5,418.6 C506.57,418.17 507.27,417.93 508.6,417 C509.93,416.07 511.97,414.97 513.5,413 C515.03,411.03 516.5,408.03 517.8,405.2 C519.1,402.37 520.25,398.83 521.3,396 C522.35,393.17 523.03,391.13 524.1,388.2 C525.17,385.27 526.52,381.1 527.7,378.4 C528.88,375.7 530.03,373.65 531.2,372 C532.37,370.35 533.65,369.07 534.7,368.5 C535.75,367.93 536.52,368.15 537.5,368.6 C538.48,369.05 539.15,369.92 540.6,371.2 C542.05,372.48 544.55,375.73 546.2,376.3 C547.85,376.87 549.07,377.35 550.5,374.6 C551.93,371.85 553.37,366.07 554.8,359.8 C556.23,353.53 557.73,345.27 559.1,337 C560.47,328.73 561.78,318.47 563,310.2 C564.22,301.93 565.27,294.23 566.4,287.4 C567.53,280.57 568.67,274.13 569.8,269.2 C570.93,264.27 572.05,260.53 573.2,257.8 C574.35,255.07 575.37,253.93 576.7,252.8 C578.03,251.67 579.88,251 581.2,251 C582.52,251 583.47,251.67 584.6,252.8 C585.73,253.93 586.85,255.45 588,257.8 C589.15,260.15 590.35,264.05 591.5,266.9 C592.65,269.75 593.77,272.43 594.9,274.9 C596.03,277.37 596.97,279.23 598.3,281.7 C599.63,284.17 601.38,287.6 602.9,289.7 C604.42,291.8 605.88,292.78 607.4,294.3 C608.92,295.82 610.48,296.9 612,298.8 C613.52,300.7 614.98,302.85 616.5,305.7 C618.02,308.55 619.77,312.48 621.1,315.9 C622.43,319.32 623.43,323.02 624.5,326.2 C625.57,329.38 626.42,331.07 627.5,335 C628.58,338.93 629.58,344.13 631,349.8 C632.42,355.47 634.33,362.67 636,369 C637.67,375.33 639.33,382.63 641,387.8 C642.67,392.97 644.27,396.38 646,400 C647.73,403.62 649.65,406.92 651.4,409.5 C653.15,412.08 654.7,413.92 656.5,415.5 C658.3,417.08 658.98,418.22 662.2,419 C665.42,419.78 673.53,420 675.8,420.2" fill="none" stroke="#4c72b0" stroke-width="0.9" stroke-linecap="round"/>
<text x="491.8" y="423.1" font-size="7" text-anchor="end" fill="#333333" font-weight="normal">0.000</text>
<text x="491.8" y="402.18" font-size="7" text-anchor="end" fill="#333333" font-weight="normal">0.002</text>
<text x="491.8" y="381.26" font-size="7" text-anchor="end" fill="#333333" font-weight="normal">0.004</text>
<text x="491.8" y="360.34" font-size="7" text-anchor="end" fill="#333333" font-weight="normal">0.006</text>
<text x="491.8" y="339.42" font-size="7" text-anchor="end" fill="#333333" font-weight="normal">0.008</text>
<text x="491.8" y="318.5" font-size="7" text-anchor="end" fill="#333333" font-weight="normal">0.010</text>
<text x="491.8" y="297.58" font-size="7" text-anchor="end" fill="#333333" font-weight="normal">0.012</text>
<text x="491.8" y="276.66" font-size="7" text-anchor="end" fill="#333333" font-weight="normal">0.014</text>
<text x="491.8" y="255.74" font-size="7" text-anchor="end" fill="#333333" font-weight="normal">0.016</text>
<text x="511.21" y="428.2" font-size="7.2" text-anchor="middle" fill="#333333" font-weight="normal">&#8722;20</text>
<text x="534.5" y="428.2" font-size="7.2" text-anchor="middle" fill="#333333" font-weight="normal">0</text>
<text x="557.79" y="428.2" font-size="7.2" text-anchor="middle" fill="#333333" font-weight="normal">20</text>
<text x="581.08" y="428.2" font-size="7.2" text-anchor="middle" fill="#333333" font-weight="normal">40</text>
<text x="604.38" y="428.2" font-size="7.2" text-anchor="middle" fill="#333333" font-weight="normal">60</text>
<text x="627.67" y="428.2" font-size="7.2" text-anchor="middle" fill="#333333" font-weight="normal">80</text>
<text x="650.96" y="428.2" font-size="7.2" text-anchor="middle" fill="#333333" font-weight="normal">100</text>
<text x="674.25" y="428.2" font-size="7.2" text-anchor="middle" fill="#333333" font-weight="normal">120</text>
<text x="502" y="256.3" font-size="15.8" text-anchor="start" fill="#000" font-weight="bold">f</text>
<text x="556.8" y="437.2" font-size="8.6" fill="#333333">Cloud Point (</text>
<text x="607.59" y="436.47" font-size="6.19" fill="#333333">&#176;</text>
<text x="612.46" y="437.2" font-size="8.6" fill="#333333">C)</text>
</svg>
</body></html>
